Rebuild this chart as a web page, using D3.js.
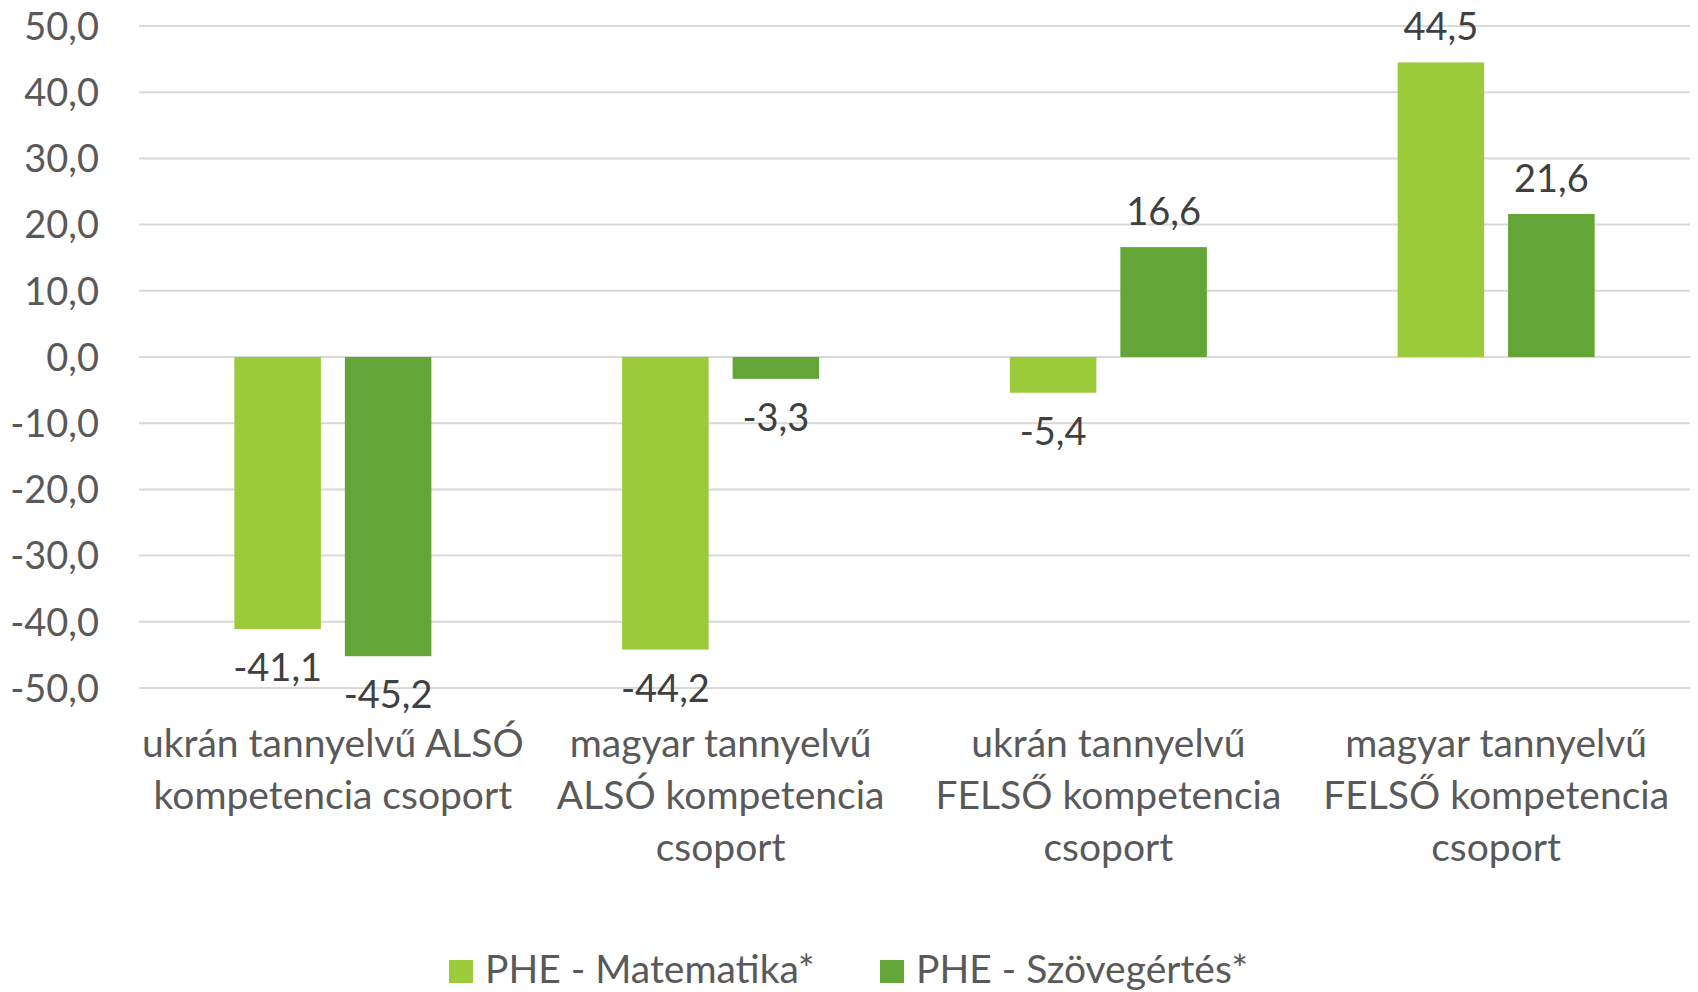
<!DOCTYPE html>
<html>
<head>
<meta charset="utf-8">
<script src="https://cdn.jsdelivr.net/npm/d3@7"></script>
<style>
  body { margin: 0; background: #fff; }
  text { font-family: Lato, "Open Sans", sans-serif; }
</style>
</head>
<body>
<div id="chart"></div>
<script>
// data
var categories = [
  "ukrán tannyelvű ALSÓ\nkompetencia csoport",
  "magyar tannyelvű\nALSÓ kompetencia\ncsoport",
  "ukrán tannyelvű\nFELSŐ kompetencia\ncsoport",
  "magyar tannyelvű\nFELSŐ kompetencia\ncsoport"
];
var seriesNames = ["PHE - Matematika*", "PHE - Szövegértés*"];
var matekValues = [-41.1, -44.2, -5.4, 44.5];
var szovegValues = [-45.2, -3.3, 16.6, 21.6];
var yTicks = [-50, -40, -30, -20, -10, 0, 10, 20, 30, 40, 50];
var colors = ["#9BCB3B", "#63A537"];

var W = 1698, H = 992;
var margin = {top: 26, right: 8, bottom: 304, left: 139};
var width = W - margin.left - margin.right,
    height = H - margin.top - margin.bottom;

var fmt = function(v) { return d3.format(".1f")(v).replace(".", ",").replace("−", "-"); };

var svg = d3.select("#chart")
  .append("svg")
    .attr("width", W)
    .attr("height", H)
  .append("g")
    .attr("transform", "translate(" + margin.left + "," + margin.top + ")");

var x0 = d3.scaleBand()
  .domain(categories)
  .range([0, width])
  .padding(0);

var groupW = 197;
var x1 = d3.scaleBand()
  .domain(seriesNames)
  .range([(x0.bandwidth() - groupW) / 2, (x0.bandwidth() + groupW) / 2])
  .paddingInner(0.217)
  .paddingOuter(0);

var y = d3.scaleLinear()
  .domain([-50, 50])
  .range([height, 0]);

// gridlines
svg.append("g")
  .selectAll("line")
  .data(yTicks)
  .enter()
  .append("line")
    .attr("x1", 0)
    .attr("x2", width)
    .attr("y1", function(d) { return y(d); })
    .attr("y2", function(d) { return y(d); })
    .style("stroke", "#D9D9D9")
    .style("stroke-width", 2);

// y axis labels
var yAxis = d3.axisLeft(y)
  .tickValues(yTicks)
  .tickSize(0)
  .tickPadding(40)
  .tickFormat(fmt);
svg.append("g")
  .call(yAxis)
  .call(function(g) { g.select(".domain").remove(); })
  .selectAll("text")
    .style("font-size", "38px")
    .style("font-family", "Lato")
    .attr("fill", "#595959")
    .attr("dy", "0.35em");

// bars
var rows = categories.map(function(c, i) {
  return {cat: c, vals: [matekValues[i], szovegValues[i]]};
});

var groups = svg.append("g")
  .selectAll("g")
  .data(rows)
  .enter()
  .append("g")
    .attr("transform", function(d) { return "translate(" + x0(d.cat) + ",0)"; });

var bars = groups.selectAll("g")
  .data(function(d) {
    return seriesNames.map(function(s, j) { return {s: s, v: d.vals[j], j: j}; });
  })
  .enter()
  .append("g");

bars.append("rect")
  .attr("x", function(d) { return x1(d.s); })
  .attr("width", x1.bandwidth())
  .attr("y", function(d) { return y(Math.max(0, d.v)); })
  .attr("height", function(d) { return Math.abs(y(d.v) - y(0)); })
  .style("fill", function(d) { return colors[d.j]; });

// data labels
bars.append("text")
  .attr("x", function(d) { return x1(d.s) + x1.bandwidth() / 2; })
  .attr("y", function(d) { return d.v >= 0 ? y(d.v) - 22 : y(d.v) + 52; })
  .attr("text-anchor", "middle")
  .style("font-size", "38px")
  .style("fill", "#404040")
  .text(function(d) { return fmt(d.v); });

// category labels
var catLabels = svg.append("g")
  .selectAll("text")
  .data(categories)
  .enter()
  .append("text")
    .attr("x", function(d) { return x0(d) + x0.bandwidth() / 2; })
    .attr("y", height + 69)
    .attr("text-anchor", "middle")
    .style("font-size", "39px")
    .style("fill", "#595959");

catLabels.selectAll("tspan")
  .data(function(d) { return d.split("\n"); })
  .enter()
  .append("tspan")
    .attr("x", function() { return d3.select(this.parentNode).attr("x"); })
    .attr("dy", function(d, i) { return i === 0 ? 0 : 52; })
    .text(function(d) { return d; });

// legend
var legendX = [449, 880];
var legend = svg.append("g")
  .selectAll("g")
  .data(seriesNames)
  .enter()
  .append("g")
    .attr("transform", function(d, i) { return "translate(" + (legendX[i] - margin.left) + "," + (960 - margin.top) + ")"; });

legend.append("rect")
  .attr("width", 24)
  .attr("height", 23)
  .style("fill", function(d, i) { return colors[i]; });

legend.append("text")
  .attr("x", 36)
  .attr("y", 23)
  .style("font-size", "39px")
  .style("fill", "#595959")
  .text(function(d) { return d; });
</script>
</body>
</html>
